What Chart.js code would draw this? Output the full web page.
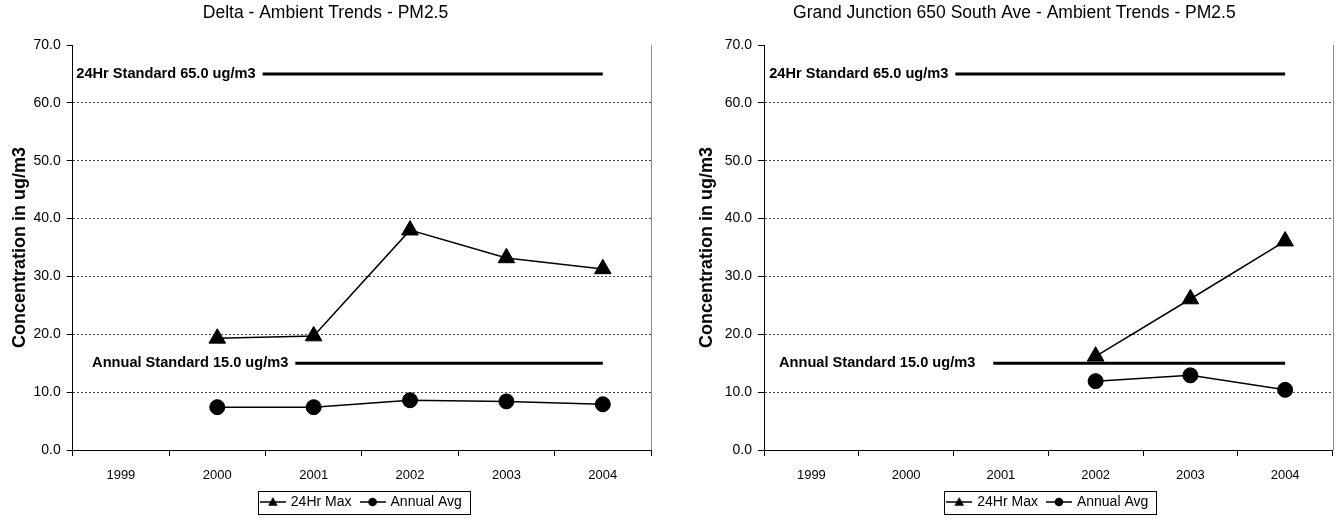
<!DOCTYPE html>
<html><head><meta charset="utf-8">
<script src="https://cdn.jsdelivr.net/npm/chart.js@4/dist/chart.umd.min.js"></script>
<style>
html,body{margin:0;padding:0;background:#fff;width:1344px;height:519px;overflow:hidden}
.wrap{position:absolute;top:0;height:519px;width:672px}
#w1{left:0}
#w2{left:672px}
canvas{display:block}
</style></head><body>
<div class="wrap" id="w1"><canvas id="c1" width="672" height="519"></canvas></div>
<div class="wrap" id="w2"><canvas id="c2" width="672" height="519"></canvas></div>
<script>
// ---------- data ----------
const years = [1999, 2000, 2001, 2002, 2003, 2004];
const yTickValues = [0, 10, 20, 30, 40, 50, 60, 70];

const deltaTitle = 'Delta - Ambient Trends - PM2.5';
const deltaMax24 = [null, 19.3, 19.7, 38.0, 33.2, 31.3];
const deltaAnnualAvg = [null, 7.4, 7.4, 8.6, 8.4, 7.9];

const gjTitle = 'Grand Junction 650 South Ave - Ambient Trends - PM2.5';
const gjMax24 = [null, null, null, 16.2, 26.1, 36.1];
const gjAnnualAvg = [null, null, null, 11.9, 12.9, 10.4];

const std24Label = '24Hr Standard 65.0 ug/m3';
const std24Value = 65.0;
const stdAnnualLabel = 'Annual Standard 15.0 ug/m3';
const stdAnnualValue = 15.0;
// x (year) at which the standard lines start / end
const deltaStd24Span = [2000.47, 2004];
const deltaStdAnnualSpan = [2000.81, 2004];
const gjStd24Span = [2000.52, 2004];
const gjStdAnnualSpan = [2000.92, 2004];

const seriesNames = ['24Hr Max', 'Annual Avg'];
const yTitle = 'Concentration in ug/m3';

// ---------- helpers ----------
Chart.defaults.font.family = "'Liberation Sans', Arial, sans-serif";
Chart.defaults.color = '#000';

function makeIcon(kind) {
  const c = document.createElement('canvas');
  c.width = 26; c.height = 14;
  const g = c.getContext('2d');
  g.strokeStyle = '#000'; g.fillStyle = '#000'; g.lineWidth = 1.5;
  g.beginPath(); g.moveTo(0, 7); g.lineTo(26, 7); g.stroke();
  g.beginPath();
  if (kind === 'triangle') { g.moveTo(13, 2); g.lineTo(17.8, 10.8); g.lineTo(8.2, 10.8); g.closePath(); }
  else { g.arc(13, 7, 4.3, 0, Math.PI * 2); }
  g.fill();
  return c;
}
const triIcon = makeIcon('triangle');
const circIcon = makeIcon('circle');

const xTickValues = [];
years.forEach(y => { xTickValues.push(y - 0.5); xTickValues.push(y); });
xTickValues.push(years[years.length - 1] + 0.5);

const decoPlugin = {
  id: 'deco',
  beforeDatasetsDraw(chart) {
    const {ctx, chartArea: a} = chart;
    ctx.save();
    ctx.strokeStyle = '#8c8c8c'; ctx.lineWidth = 1;
    ctx.beginPath(); ctx.moveTo(Math.round(a.right) + 0.5, a.top); ctx.lineTo(Math.round(a.right) + 0.5, a.bottom); ctx.stroke();
    ctx.restore();
  },
  afterDatasetsDraw(chart) {
    const {ctx} = chart;
    chart.data.datasets.forEach((ds, i) => {
      if (!ds.isStandard) return;
      const p = chart.getDatasetMeta(i).data[0];
      ctx.save();
      ctx.font = "bold 14.6px 'Liberation Sans', Arial, sans-serif";
      ctx.fillStyle = '#000'; ctx.textAlign = 'right'; ctx.textBaseline = 'middle';
      ctx.fillText(ds.label, p.x - (ds.labelGap || 7), p.y);
      ctx.restore();
    });
  },
  afterDraw(chart) {
    const lg = chart.legend;
    if (!lg || !lg.legendHitBoxes || !lg.legendHitBoxes.length) return;
    const hb = lg.legendHitBoxes;
    const first = hb[0], last = hb[hb.length - 1];
    const ctx = chart.ctx;
    const l = Math.round(first.left - 4) + 0.5;
    const r = Math.round(last.left + last.width + 8) + 0.5;
    const t = Math.round(first.top - 4) + 0.5;
    const b = Math.round(first.top + first.height + 5) + 0.5;
    ctx.save(); ctx.strokeStyle = '#000'; ctx.lineWidth = 1;
    ctx.strokeRect(l, t, r - l, b - t);
    ctx.restore();
  }
};

function pts(vals) { return years.map((y, i) => ({x: y, y: vals[i]})); }
function span(s, v) { return [{x: s[0], y: v}, {x: s[1], y: v}]; }

function makeChart(canvasId, title, max24, avg, s24, sAnn, padLeft, yWidth, padRight, annualGap) {
  return new Chart(document.getElementById(canvasId), {
    type: 'line',
    data: {
      datasets: [
        {label: seriesNames[0], data: pts(max24), borderColor: '#000', backgroundColor: '#000', borderWidth: 1.5,
         pointStyle: 'triangle', pointRadius: 9.6, pointBorderWidth: 1, legendIcon: triIcon},
        {label: seriesNames[1], data: pts(avg), borderColor: '#000', backgroundColor: '#000', borderWidth: 1.5,
         pointStyle: 'circle', pointRadius: 7.5, pointBorderWidth: 1, legendIcon: circIcon},
        {label: std24Label, data: span(s24, std24Value), borderColor: '#000', borderWidth: 3, pointRadius: 0, isStandard: true, labelGap: 7},
        {label: stdAnnualLabel, data: span(sAnn, stdAnnualValue), borderColor: '#000', borderWidth: 3, pointRadius: 0, isStandard: true, labelGap: annualGap}
      ]
    },
    options: {
      responsive: false, animation: false, devicePixelRatio: 1,
      layout: {padding: {left: padLeft, right: padRight, top: 0, bottom: 0}},
      plugins: {
        tooltip: {enabled: false},
        title: {display: true, text: title, color: '#000', font: {size: 17.5, weight: 'normal'}, padding: {top: 3, bottom: 21}},
        legend: {
          display: true, position: 'bottom', fullSize: false,
          labels: {
            color: '#000', font: {size: 14}, usePointStyle: true, pointStyleWidth: 22, padding: 10,
            generateLabels: (chart) => chart.data.datasets
              .map((ds, i) => ({text: ds.label, pointStyle: ds.legendIcon, datasetIndex: i, hidden: false,
                                fontColor: '#000', lineWidth: 0, strokeStyle: 'transparent', fillStyle: 'transparent'}))
              .filter(it => chart.data.datasets[it.datasetIndex].legendIcon)
          }
        }
      },
      scales: {
        x: {
          type: 'linear', min: years[0] - 0.5, max: years[years.length - 1] + 0.5,
          afterBuildTicks: (s) => { s.ticks = xTickValues.map(v => ({value: v})); },
          afterFit: (s) => { s.height = 35; },
          ticks: {autoSkip: false, maxRotation: 0, padding: 11.5, color: '#000', font: {size: 13},
                  callback: (v) => Number.isInteger(v) ? String(v) : ''},
          grid: {drawOnChartArea: false, drawTicks: true, tickLength: 6, tickWidth: 1,
                 tickColor: (c) => (c.tick && Number.isInteger(c.tick.value)) ? 'rgba(0,0,0,0)' : '#000'},
          border: {display: true, color: '#000', width: 1}
        },
        y: {
          min: 0, max: 70,
          afterBuildTicks: (s) => { s.ticks = yTickValues.map(v => ({value: v})); },
          afterFit: (s) => { s.width = yWidth; },
          ticks: {padding: 6, color: '#000', font: {size: 14}, callback: (v) => Number(v).toFixed(1)},
          grid: {drawTicks: true, tickLength: 6, lineWidth: 1, tickBorderDash: [],
                 tickColor: '#000',
                 color: (c) => (c.tick && (c.tick.value === 0 || c.tick.value === 70)) ? 'rgba(0,0,0,0)' : '#444'},
          border: {display: true, color: '#000', width: 1, dash: [2, 2]},
          title: {display: true, text: yTitle, color: '#000', font: {size: 18, weight: 'bold'}, padding: {top: 9, bottom: 0}}
        }
      }
    },
    plugins: [decoPlugin]
  });
}

makeChart('c1', deltaTitle, deltaMax24, deltaAnnualAvg, deltaStd24Span, deltaStdAnnualSpan, 0, 72.7, 21, 7);
makeChart('c2', gjTitle, gjMax24, gjAnnualAvg, gjStd24Span, gjStdAnnualSpan, 15, 77, 2.3, 18);
</script>
</body></html>
